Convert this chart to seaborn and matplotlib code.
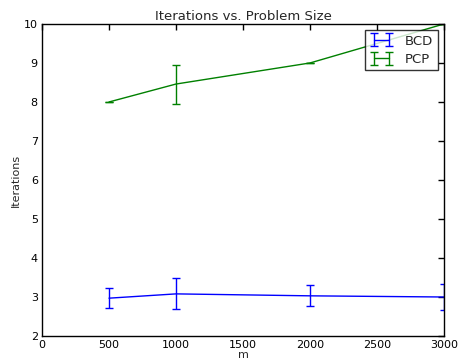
import numpy as np
import pandas as pd
import matplotlib
matplotlib.use("Agg")
import matplotlib.pyplot as plt
import seaborn as sns
from matplotlib.container import ErrorbarContainer

sizes = [500, 1000, 2000, 3000]
bcd_iters = [2.97, 3.08, 3.03, 3.00]
bcd_err = [0.26, 0.40, 0.27, 0.33]
pcp_iters = [8.0, 8.46, 9.0, 10.0]
pcp_err = [0.0, 0.50, 0.0, 0.0]

sns.set_style("white")
plt.rcParams['font.family'] = ['DejaVu Sans']

df = pd.DataFrame({
    "m": sizes * 2,
    "Iterations": bcd_iters + pcp_iters,
    "err": bcd_err + pcp_err,
    "method": ["BCD"] * 4 + ["PCP"] * 4,
})
colors = {"BCD": "#0000ff", "PCP": "#008000"}

fig = plt.figure(figsize=(4.62, 3.62), dpi=100)
ax = fig.add_axes([0.0909, 0.0718, 0.8701, 0.8620])

sns.lineplot(data=df, x="m", y="Iterations", hue="method", palette=colors,
             legend=False, linewidth=1.0, ax=ax, estimator=None)

handles = []
for i, (name, sub) in enumerate(df.groupby("method")):
    eb = ax.errorbar(sub["m"], sub["Iterations"], yerr=sub["err"], fmt="none",
                     ecolor=colors[name], elinewidth=1.0, capsize=3, capthick=1.0)
    line = ax.get_lines()[i]
    handles.append(ErrorbarContainer((line, eb.lines[1], eb.lines[2]),
                                     has_yerr=True, label=name))

ax.set_xlim(0, 3000)
ax.set_ylim(2, 10)
ax.set_xticks(np.arange(0, 3001, 500))
ax.set_yticks(np.arange(2, 11, 1))
ax.tick_params(direction="in", length=4, width=1, top=True, right=True,
               labelsize=8, pad=3, colors="black")
for s in ax.spines.values():
    s.set_edgecolor("black")
    s.set_linewidth(1.0)
ax.set_title("Iterations vs. Problem Size", fontsize=9.5, pad=3)
ax.set_xlabel("m", fontsize=8, labelpad=0)
ax.set_ylabel("Iterations", fontsize=8, labelpad=2)

leg = ax.legend(handles=handles, labels=["BCD", "PCP"], loc="upper right",
                fontsize=9.5, frameon=True, fancybox=False, borderaxespad=0.45,
                numpoints=2, handlelength=1.8, handletextpad=0.9,
                borderpad=0.35, labelspacing=0.4)
leg.get_frame().set_edgecolor("black")
leg.get_frame().set_linewidth(1.0)

fig.savefig("out.png", dpi=100)
